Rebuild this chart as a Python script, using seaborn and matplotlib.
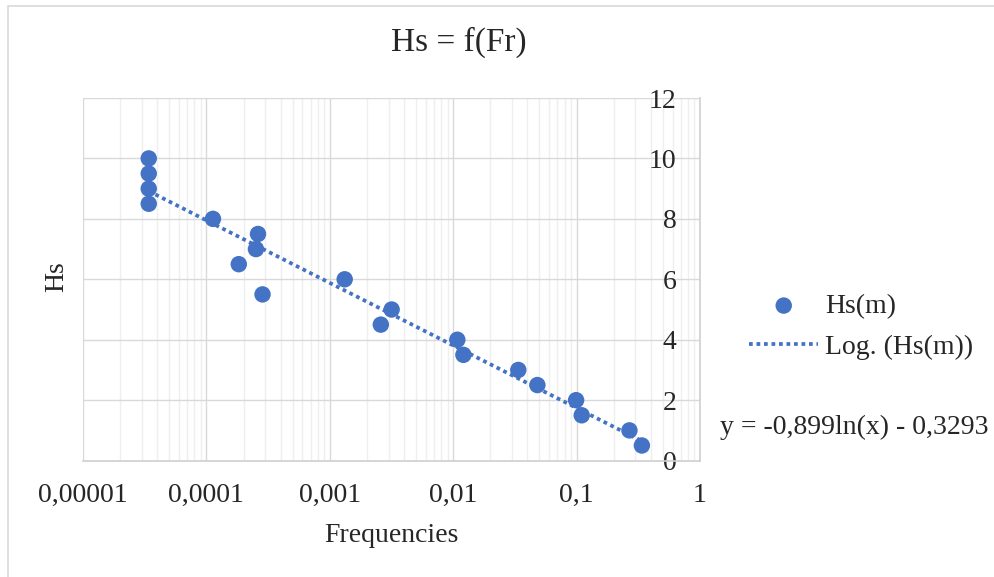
import seaborn as sns
import matplotlib.pyplot as plt
import pandas as pd
import numpy as np
from matplotlib.ticker import LogLocator, NullFormatter
from matplotlib.patches import Rectangle

# data
frequencies = [3.41e-5, 3.41e-5, 3.41e-5, 3.41e-5, 1.13e-4, 2.62e-4, 2.52e-4,
               1.83e-4, 1.32e-3, 2.85e-4, 3.17e-3, 2.59e-3, 1.08e-2, 1.21e-2,
               3.37e-2, 4.81e-2, 0.0991, 0.110, 0.268, 0.338]
hs = [10, 9.5, 9, 8.5, 8, 7.5, 7, 6.5, 6, 5.5, 5, 4.5, 4, 3.5, 3, 2.5, 2, 1.5, 1, 0.5]

# log trendline shown on the chart: y = a*ln(x) + b
trend_a = -0.899
trend_b = -0.3293

x_ticks = [1e-5, 1e-4, 1e-3, 1e-2, 1e-1, 1]
x_tick_labels = ["0,00001", "0,0001", "0,001", "0,01", "0,1", "1"]
y_ticks = [0, 2, 4, 6, 8, 10, 12]
y_tick_labels = ["0", "2", "4", "6", "8", "10", "12"]

blue = "#4472C4"
grid_major = "#d9d9d9"
grid_minor = "#efefef"

sns.set_style("white")
plt.rcParams["font.family"] = ["Liberation Serif", "DejaVu Serif"]

W, H = 995, 577
fig = plt.figure(figsize=(W / 100, H / 100), dpi=100)
ax = fig.add_axes([83 / W, 1 - 460.6 / H, 617 / W, (460.6 - 98) / H])

df = pd.DataFrame({"Frequencies": frequencies, "Hs": hs})
sns.scatterplot(data=df, x="Frequencies", y="Hs", ax=ax, color=blue, s=140,
                edgecolor="none", label="Hs(m)", zorder=3)

xs = np.logspace(np.log10(min(frequencies)), np.log10(max(frequencies)), 200)
trend = pd.DataFrame({"x": xs, "y": trend_a * np.log(xs) + trend_b})
sns.lineplot(data=trend, x="x", y="y", ax=ax, color=blue, lw=2.7,
             linestyle=(0, (1, 1)), label="Log. (Hs(m))", zorder=4)

ax.set_xscale("log")
ax.set_xlim(1e-5, 1)
ax.set_ylim(0, 12)

ax.set_xticks(x_ticks)
ax.set_xticklabels(x_tick_labels, fontsize=20)
ax.xaxis.set_minor_locator(LogLocator(base=10, subs=np.arange(2, 10)))
ax.xaxis.set_minor_formatter(NullFormatter())

ax.tick_params(which="both", length=0)
ax.tick_params(axis="x", pad=16)
ax.tick_params(axis="y", labelleft=False, labelright=True, pad=-17)
ax.set_yticks(y_ticks)
ax.set_yticklabels(y_tick_labels, fontsize=20, ha="right")

ax.grid(which="major", color=grid_major, lw=1)
ax.grid(which="minor", axis="x", color=grid_minor, lw=1)
ax.set_axisbelow(True)

for side in ["left", "top"]:
    ax.spines[side].set_visible(False)
for side in ["bottom", "right"]:
    ax.spines[side].set_color("#cfcfcf")
    ax.spines[side].set_linewidth(1.2)

ax.set_xlabel("Frequencies", fontsize=20)
ax.xaxis.label.set_va("center")
ax.xaxis.set_label_coords(0.5006, (460.6 - 535) / 362.6)
ax.set_ylabel("Hs", fontsize=20)
ax.yaxis.set_label_position("left")
ax.yaxis.label.set_va("center")
ax.yaxis.set_label_coords((57 - 83) / 617, 0.506)

handles, labels = ax.get_legend_handles_labels()
ax.get_legend().remove()
fig.legend(handles, labels, loc="center left",
           bbox_to_anchor=(749 / W, 1 - 326.5 / H), frameon=False, fontsize=20,
           handlelength=2.5, handletextpad=0.25, labelspacing=0.55,
           borderpad=0, borderaxespad=0)

fig.text(459 / W, 1 - 42 / H, "Hs = f(Fr)", fontsize=24, ha="center", va="center")
fig.text(720 / W, 1 - 427 / H, "y = -0,899ln(x) - 0,3293", fontsize=20,
         ha="left", va="center")

# chart area border (only left and top edges fall inside the image)
fig.add_artist(Rectangle((8 / W, -0.1), 1.2, 1.1 - 6 / H, transform=fig.transFigure,
                         fill=False, ec="#d9d9d9", lw=1.2))

fig.savefig("out.png", dpi=100)
